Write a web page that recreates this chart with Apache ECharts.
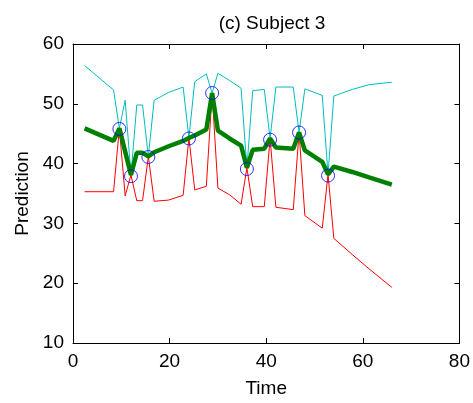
<!DOCTYPE html>
<html>
<head>
<meta charset="utf-8">
<script src="https://cdn.jsdelivr.net/npm/echarts@6/dist/echarts.min.js"></script>
<style>html,body{margin:0;padding:0;background:#fff;}#c{width:473px;height:403px;}</style>
</head>
<body>
<div id="c"></div>
<script>
// Time grid of the prediction curves
var time = [2.4, 8.4, 9.6, 10.8, 12.0, 13.2, 14.4, 15.6, 16.8, 19.8, 22.8, 24.0, 25.2, 27.6, 28.8, 30.0, 32.4, 34.8, 36.0, 37.2, 39.6, 40.8, 42.0, 45.6, 46.8, 48.0, 51.6, 52.8, 54.0, 57.8, 61.3, 66.0];
// Upper band (cyan)
var upper = [56.4, 52.3, 45.9, 50.6, 38.1, 49.8, 49.8, 41.2, 50.6, 51.9, 52.8, 44.3, 53.7, 55.0, 51.8, 55.1, 53.9, 52.6, 39.3, 52.2, 52.4, 44.2, 52.8, 52.8, 45.2, 52.5, 51.4, 38.2, 51.3, 52.4, 53.2, 53.6];
// Mean prediction (green)
var mean = [45.9, 43.8, 45.9, 42.0, 38.1, 41.8, 41.8, 41.2, 41.9, 42.9, 43.8, 44.3, 44.7, 45.7, 51.8, 45.5, 44.2, 43.0, 39.3, 42.3, 42.5, 44.2, 42.7, 42.5, 45.2, 42.2, 40.3, 38.2, 39.5, 38.6, 37.7, 36.5];
// Lower band (red)
var lower = [35.3, 35.3, 45.9, 34.6, 38.1, 33.8, 33.8, 41.2, 33.7, 33.9, 34.7, 44.3, 35.6, 36.2, 51.8, 35.9, 34.8, 33.2, 39.3, 32.8, 32.8, 44.2, 32.7, 32.3, 45.2, 31.3, 29.2, 38.2, 27.5, 24.8, 22.4, 19.3];
// Observations (blue circles)
var obsTime = [9.6, 12.0, 15.6, 24.0, 28.8, 36.0, 40.8, 46.8, 52.8];
var obsValue = [45.8, 37.9, 41.1, 44.2, 51.8, 39.1, 44.0, 45.2, 38.0];
var xTicks = [0, 20, 40, 60, 80];
var yTicks = [10, 20, 30, 40, 50, 60];

function pairs(xs, ys) { return xs.map(function (x, i) { return [x, ys[i]]; }); }

var font = 'Liberation Sans, Arial, Helvetica, sans-serif';
var fs = 19;
var chart = echarts.init(document.getElementById('c'), null, {renderer: 'canvas'});
var axisCommon = {
  type: 'value',
  axisLine: {show: true, onZero: false, lineStyle: {color: '#000', width: 1}},
  axisTick: {show: true, inside: true, length: 5, lineStyle: {color: '#000'}},
  splitLine: {show: false}
};
chart.setOption({
  animation: false,
  backgroundColor: '#fff',
  title: {
    text: '(c) Subject 3', left: 267, top: 9, textAlign: 'center',
    textStyle: {fontFamily: font, fontSize: fs, fontWeight: 'normal', color: '#000'}
  },
  grid: {left: 73, right: 12, top: 44, bottom: 52, containLabel: false},
  xAxis: [
    Object.assign({}, axisCommon, {
      position: 'bottom', min: xTicks[0], max: xTicks[xTicks.length - 1], interval: xTicks[1] - xTicks[0],
      name: 'Time', nameLocation: 'middle', nameGap: 36,
      nameTextStyle: {fontFamily: font, fontSize: fs, color: '#000'},
      axisLabel: {fontFamily: font, fontSize: fs, color: '#000', margin: 9}
    }),
    Object.assign({}, axisCommon, {
      position: 'top', min: xTicks[0], max: xTicks[xTicks.length - 1], interval: xTicks[1] - xTicks[0],
      axisLabel: {show: false}
    })
  ],
  yAxis: [
    Object.assign({}, axisCommon, {
      position: 'left', min: yTicks[0], max: yTicks[yTicks.length - 1], interval: yTicks[1] - yTicks[0],
      name: 'Prediction', nameLocation: 'middle', nameGap: 36,
      nameTextStyle: {fontFamily: font, fontSize: fs, color: '#000'},
      axisLabel: {fontFamily: font, fontSize: fs, color: '#000', margin: 9}
    }),
    Object.assign({}, axisCommon, {
      position: 'right', min: yTicks[0], max: yTicks[yTicks.length - 1], interval: yTicks[1] - yTicks[0],
      axisLabel: {show: false}
    })
  ],
  series: [
    {type: 'line', data: pairs(time, upper), showSymbol: false, lineStyle: {color: '#00bfbf', width: 1}, z: 2},
    {type: 'line', data: pairs(time, lower), showSymbol: false, lineStyle: {color: '#ff0000', width: 1}, z: 2},
    {type: 'line', data: pairs(time, mean), showSymbol: false, lineStyle: {color: '#008000', width: 4.5}, z: 3},
    {type: 'scatter', data: pairs(obsTime, obsValue), symbol: 'circle', symbolSize: 13,
     itemStyle: {color: 'rgba(0,0,0,0)', borderColor: '#0000ff', borderWidth: 1}, z: 4}
  ]
});
</script>
</body>
</html>
